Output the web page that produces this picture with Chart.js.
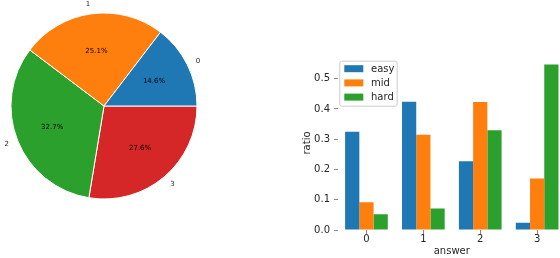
<!DOCTYPE html>
<html>
<head>
<meta charset="utf-8">
<script src="https://cdn.jsdelivr.net/npm/chart.js@4.4.1/dist/chart.umd.min.js"></script>
<style>
  html, body { margin: 0; padding: 0; background: #fff; width: 560px; height: 258px; overflow: hidden; position: relative; }
  canvas { position: absolute; top: 0; }
  #pie { left: 0; }
  #bar { left: 290px; }
</style>
</head>
<body>
<canvas id="pie" width="280" height="258"></canvas>
<canvas id="bar" width="290" height="258"></canvas>
<script>
// ---- data ----
const pieLabels = ['0', '1', '2', '3'];
const pieShares = [14.6, 25.1, 32.7, 27.6];
const pieColors = ['#1f77b4', '#ff7f0e', '#2ca02c', '#d62728'];

const categories = ['0', '1', '2', '3'];
const seriesNames = ['easy', 'mid', 'hard'];
const easy = [0.325, 0.424, 0.227, 0.024];
const mid  = [0.092, 0.315, 0.423, 0.170];
const hard = [0.052, 0.071, 0.330, 0.547];
const seriesColors = ['#1f77b4', '#ff7f0e', '#2ca02c'];
const yTicks = [0, 0.1, 0.2, 0.3, 0.4, 0.5];

const FONT = 'DejaVu Sans';
const TXT = '#262626';

// ---- pie (matplotlib draws counter-clockwise from east; Chart.js clockwise, so reverse) ----
const revIdx = pieLabels.map((_, i) => pieLabels.length - 1 - i);
const pieLabelPlugin = {
  id: 'pieLabels',
  afterDatasetsDraw(chart) {
    const ctx = chart.ctx;
    const meta = chart.getDatasetMeta(0);
    const ds = chart.data.datasets[0].data;
    const total = ds.reduce((a, b) => a + b, 0);
    ctx.save();
    ctx.font = '7px "' + FONT + '"';
    ctx.textBaseline = 'middle';
    meta.data.forEach((arc, i) => {
      const p = arc.getProps(['x', 'y', 'startAngle', 'endAngle', 'outerRadius'], true);
      const m = (p.startAngle + p.endAngle) / 2;
      const c = Math.cos(m), s = Math.sin(m);
      ctx.fillStyle = '#000';
      ctx.textAlign = 'center';
      ctx.fillText((ds[i] / total * 100).toFixed(1) + '%', p.x + 0.6 * p.outerRadius * c, p.y + 0.6 * p.outerRadius * s);
      ctx.fillStyle = TXT;
      ctx.textAlign = c > 0 ? 'left' : 'right';
      ctx.fillText(chart.data.labels[i], p.x + 1.1 * p.outerRadius * c, p.y + 1.1 * p.outerRadius * s);
    });
    ctx.restore();
  }
};

new Chart(document.getElementById('pie'), {
  type: 'pie',
  data: {
    labels: revIdx.map(i => pieLabels[i]),
    datasets: [{
      data: revIdx.map(i => pieShares[i]),
      backgroundColor: revIdx.map(i => pieColors[i]),
      borderColor: '#ffffff',
      borderWidth: 1
    }]
  },
  options: {
    responsive: false,
    devicePixelRatio: 1,
    animation: false,
    events: [],
    rotation: 90,
    radius: 93,
    layout: { padding: { left: 0, right: 72, top: 0, bottom: 46 } },
    plugins: { legend: { display: false }, tooltip: { enabled: false } }
  },
  plugins: [pieLabelPlugin]
});

// ---- grouped bar ----
const legendPlugin = {
  id: 'innerLegend',
  afterDatasetsDraw(chart) {
    const ctx = chart.ctx;
    const ca = chart.chartArea;
    const x0 = ca.left + 1.3, y0 = ca.top + 4.7, w = 57.4, h = 45;
    ctx.save();
    ctx.beginPath();
    if (ctx.roundRect) ctx.roundRect(x0 + 0.5, y0 + 0.5, w, h, 2); else ctx.rect(x0 + 0.5, y0 + 0.5, w, h);
    ctx.fillStyle = 'rgba(255,255,255,0.8)';
    ctx.fill();
    ctx.strokeStyle = '#cccccc';
    ctx.lineWidth = 1;
    ctx.stroke();
    ctx.font = '10px "' + FONT + '"';
    ctx.textBaseline = 'middle';
    ctx.textAlign = 'left';
    chart.data.datasets.forEach((ds, i) => {
      const cy = y0 + 8 + i * 14.2;
      ctx.fillStyle = ds.backgroundColor;
      ctx.fillRect(x0 + 5, cy - 3.5, 19, 7);
      ctx.fillStyle = TXT;
      ctx.fillText(ds.label, x0 + 31.7, cy + 0.5);
    });
    ctx.restore();
  }
};

const seriesData = [easy, mid, hard];
new Chart(document.getElementById('bar'), {
  type: 'bar',
  data: {
    labels: categories,
    datasets: seriesNames.map((n, i) => ({
      label: n,
      data: seriesData[i],
      backgroundColor: seriesColors[i],
      borderWidth: 0,
      categoryPercentage: 0.75,
      barPercentage: 1.0
    }))
  },
  options: {
    responsive: false,
    devicePixelRatio: 1,
    animation: false,
    events: [],
    layout: { padding: { left: 0, right: 14.4, top: 56, bottom: 0 } },
    plugins: { legend: { display: false }, tooltip: { enabled: false } },
    scales: {
      x: {
        offset: true,
        border: { display: false },
        grid: { display: true, offset: false, drawOnChartArea: false, drawTicks: true, tickLength: 4, tickColor: '#888' },
        ticks: { color: TXT, font: { family: FONT, size: 10 }, padding: -1, maxRotation: 0 },
        title: { display: true, text: 'answer', color: TXT, font: { family: FONT, size: 10 }, padding: { top: 0, bottom: 1 } },
        afterFit(scale) { scale.height = 28; }
      },
      y: {
        min: 0,
        max: 0.575,
        border: { display: false },
        grid: { display: true, drawOnChartArea: false, drawTicks: true, tickLength: 4, tickColor: '#888' },
        ticks: { color: TXT, font: { family: FONT, size: 10 }, padding: 4, callback: v => v.toFixed(1) },
        afterBuildTicks(scale) { scale.ticks = yTicks.map(v => ({ value: v })); },
        title: { display: true, text: 'ratio', color: TXT, font: { family: FONT, size: 10 }, padding: { top: 11.5, bottom: 0 } },
        afterFit(scale) { scale.width = 48; }
      }
    }
  },
  plugins: [legendPlugin]
});
</script>
</body>
</html>
